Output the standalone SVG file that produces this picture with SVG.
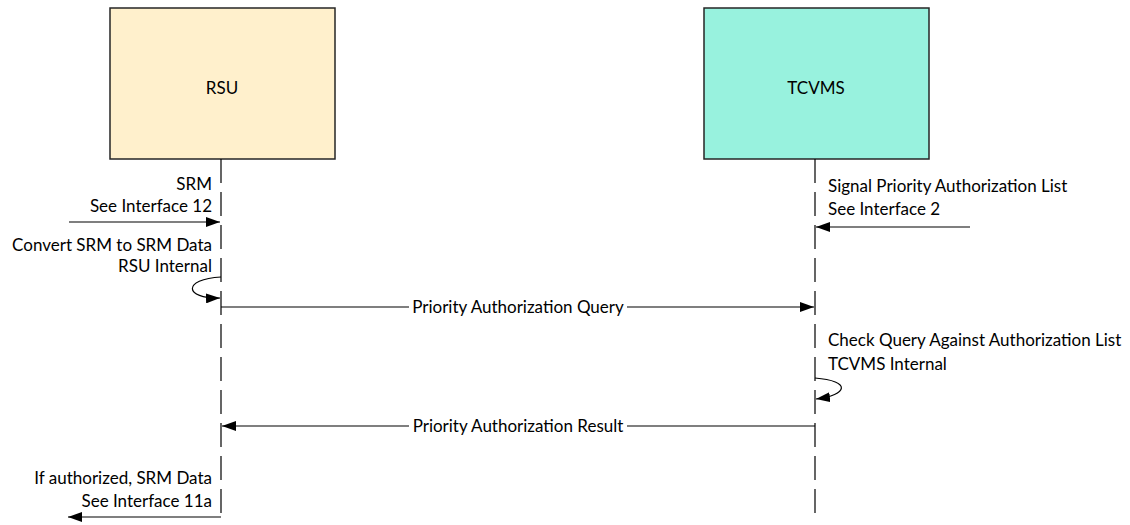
<svg xmlns="http://www.w3.org/2000/svg" width="1130" height="525" viewBox="0 0 1130 525">
  <style>
    .box { stroke: #262626; stroke-width: 1.5; }
    .life { stroke: #000; stroke-width: 1.2; stroke-dasharray: 24 9; fill: none; }
    .msg { stroke: #000; stroke-width: 1.2; fill: none; }
    text { font-family: Lato, "Liberation Sans", sans-serif; font-size: 17px; fill: #000; }
    .r { text-anchor: end; }
    .m { text-anchor: middle; }
  </style>
  <defs>
    <marker id="arr" viewBox="0 0 14 10" refX="14" refY="5" markerWidth="14" markerHeight="10" markerUnits="userSpaceOnUse" orient="auto">
      <path d="M0,0 L14,5 L0,10 Z" fill="#000"/>
    </marker>
  </defs>

  <!-- participants -->
  <g id="rsu">
    <rect class="box" x="110" y="8" width="225" height="151" fill="#FFF0CC"/>
    <text class="m" x="222" y="94">RSU</text>
  </g>
  <g id="tcvms">
    <rect class="box" x="704" y="8" width="225" height="151" fill="#98F2DE"/>
    <text class="m" x="816" y="94">TCVMS</text>
  </g>

  <!-- lifelines and messages -->
  <g id="connectors">
    <path class="life" d="M221,159 V520"/>
    <path class="life" d="M815,159 V520"/>

    <!-- SRM in -->
    <path class="msg" d="M69,222 H220" marker-end="url(#arr)"/>
    <!-- authorization list in -->
    <path class="msg" d="M970,227 H816" marker-end="url(#arr)"/>
    <!-- RSU internal conversion -->
    <path class="msg" d="M221,277 C182,279 184,299 220,298" marker-end="url(#arr)"/>
    <!-- query -->
    <path class="msg" d="M221,307 H409 M627,307 H814" marker-end="url(#arr)"/>
    <!-- TCVMS internal check -->
    <path class="msg" d="M815,378 C852,381 848,395 816,399" marker-end="url(#arr)"/>
    <!-- result -->
    <path class="msg" d="M815,426 H627 M409,426 H222" marker-end="url(#arr)"/>
    <!-- SRM data out -->
    <path class="msg" d="M221,517 H68" marker-end="url(#arr)"/>
  </g>

  <!-- labels -->
  <g id="labels">
    <text class="r" x="212" y="190">SRM</text>
    <text class="r" x="212" y="212">See Interface 12</text>
    <text class="r" x="212" y="251">Convert SRM to SRM Data</text>
    <text class="r" x="212" y="272">RSU Internal</text>
    <text x="828" y="192">Signal Priority Authorization List</text>
    <text x="828" y="215">See Interface 2</text>
    <text class="m" x="518" y="313">Priority Authorization Query</text>
    <text x="828" y="346">Check Query Against Authorization List</text>
    <text x="828" y="370">TCVMS Internal</text>
    <text class="m" x="518" y="432">Priority Authorization Result</text>
    <text class="r" x="212" y="484">If authorized, SRM Data</text>
    <text class="r" x="212" y="507">See Interface 11a</text>
  </g>
</svg>
